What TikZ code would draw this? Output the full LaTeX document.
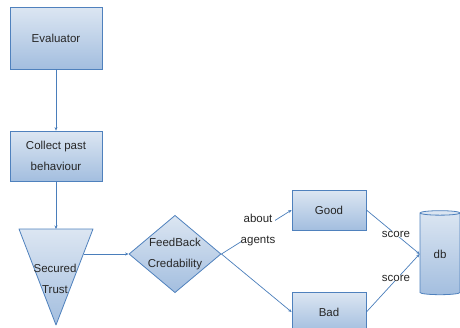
\documentclass[tikz,border=0pt]{standalone}
\usepackage{fontspec}
\setmainfont{Liberation Sans}
\usetikzlibrary{shapes.geometric,arrows.meta}
\definecolor{bdr}{HTML}{4F81BD}
\definecolor{ln}{HTML}{4A7EBB}
\definecolor{ftop}{HTML}{DCE6F2}
\definecolor{fbot}{HTML}{A3BEDF}
\tikzset{
  txt/.style={font=\fontsize{11.5}{21}\selectfont, text=black!85},
  box/.style={txt, draw=bdr, line width=0.8pt, top color=ftop, bottom color=fbot, inner sep=0pt, align=center},
  conn/.style={draw=ln, line width=0.7pt, -{Stealth[length=3.5pt,width=3pt]}},
  lbl/.style={txt, align=center, inner sep=0pt, fill=white}
}
\begin{document}
\begin{tikzpicture}[x=1pt,y=-1pt]
\useasboundingbox (0,0) rectangle (460,327);
% boxes
\node[box, minimum width=92pt, minimum height=62pt] (eval) at (56,38) {Evaluator};
\node[box, minimum width=92pt, minimum height=50pt] (coll) at (56,156) {Collect past\\behaviour};
% triangle
\shade[top color=ftop, bottom color=fbot] (19,229) -- (93,229) -- (56,325) -- cycle;
\draw[bdr, line width=0.8pt, line join=round] (19,229) -- (93,229) -- (56,325) -- cycle;
\coordinate (tritop) at (56,229);
\coordinate (triright) at (84,254);
\node[txt, align=center, inner sep=0pt] (trust) at (55,279) {Secured\\Trust};
% diamond
\node[box, diamond, aspect=1.19, minimum width=88pt, minimum height=74pt] (fb) at (175,254) {FeedBack\\Credability};
\node[box, minimum width=74pt, minimum height=40pt] (good) at (329,210) {Good};
\node[box, minimum width=74pt, minimum height=40pt] (bad) at (329,312) {Bad};
% cylinder
\node[box, cylinder, shape border rotate=90, aspect=0.35, minimum width=40pt, minimum height=84pt] (db) at (440,254) {db};
% connectors
\draw[conn] (eval.south) -- (coll.north);
\draw[conn] (coll.south) -- (tritop);
\draw[conn] (triright) -- (fb.west);
\draw[conn] (fb.east) -- (good.west);
\draw[conn] (fb.east) -- (bad.west);
\draw[conn] (good.east) -- (db.west);
\draw[conn] (bad.east) -- (db.west);
% labels
\node[lbl] (ab) at (258,230) {about\\agents};
\node[lbl] (s1) at (396,234) {score};
\node[lbl] (s2) at (396,278) {score};
\end{tikzpicture}
\end{document}
